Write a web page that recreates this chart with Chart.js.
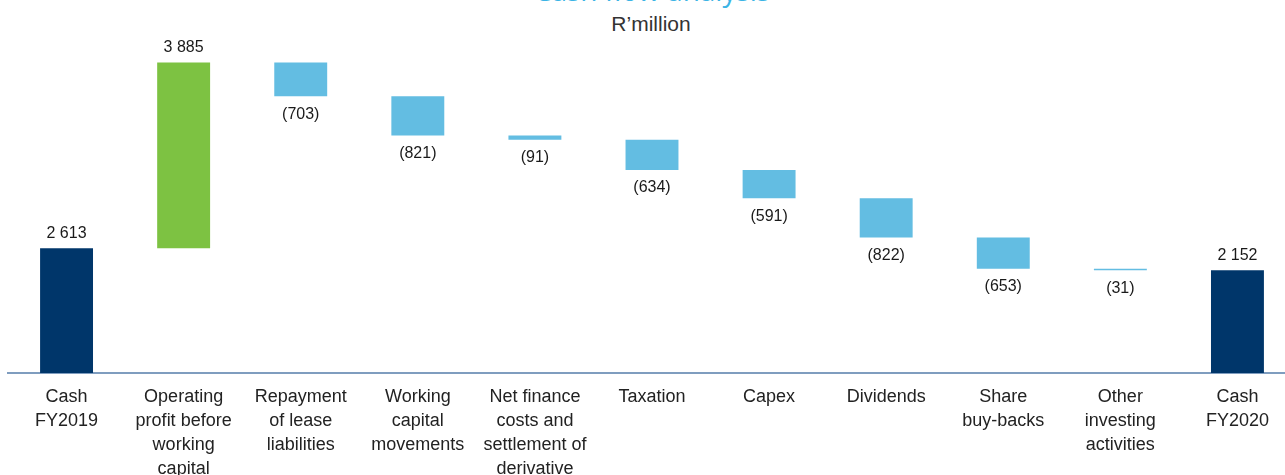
<!DOCTYPE html>
<html lang="en">
<head>
    <meta charset="UTF-8">
    <title>Cash flow analysis</title>
    <script src="https://cdn.jsdelivr.net/npm/chart.js"></script>
    <style>
        html, body {
            margin: 0;
            padding: 0;
            background: #ffffff;
            overflow: hidden;
            width: 1285px;
            height: 475px;
        }
        .title {
            position: absolute;
            left: 0;
            width: 1304px;
            text-align: center;
            top: -24px;
            font-family: "Open Sans", sans-serif;
            font-size: 28px;
            line-height: 28px;
            color: #3cb4e5;
        }
        .subtitle {
            position: absolute;
            left: 0;
            width: 1302px;
            text-align: center;
            top: 12px;
            font-family: "Liberation Sans", Arial, sans-serif;
            font-size: 21px;
            line-height: 24px;
            color: #333333;
        }
        .chart-box {
            position: absolute;
            left: 0;
            top: 0;
            width: 1300px;
            height: 475px;
        }
    </style>
</head>
<body>
    <div class="title">Cash flow analysis</div>
    <div class="subtitle">R’million</div>
    <div class="chart-box">
        <canvas id="cashChart"></canvas>
    </div>

    <script>
        // data (R'million)
        const categories = [
            ['Cash', 'FY2019'],
            ['Operating', 'profit before', 'working', 'capital'],
            ['Repayment', 'of lease', 'liabilities'],
            ['Working', 'capital', 'movements'],
            ['Net finance', 'costs and', 'settlement of', 'derivative'],
            ['Taxation'],
            ['Capex'],
            ['Dividends'],
            ['Share', 'buy-backs'],
            ['Other', 'investing', 'activities'],
            ['Cash', 'FY2020']
        ];
        const values = [2613, 3885, -703, -821, -91, -634, -591, -822, -653, -31, 2152];
        const isTotal = [true, false, false, false, false, false, false, false, false, false, true];

        const navy = '#00366a';
        const green = '#7dc242';
        const lightBlue = '#63bde2';

        // floating ranges for the waterfall
        let running = 0;
        const ranges = values.map((v, i) => {
            if (isTotal[i]) {
                running = v;
                return [0, v];
            }
            const start = running;
            running = running + v;
            return [Math.min(start, running), Math.max(start, running)];
        });
        const colors = values.map((v, i) => isTotal[i] ? navy : (v >= 0 ? green : lightBlue));

        function fmt(v) {
            const s = Math.abs(v).toString().replace(/\B(?=(\d{3})+(?!\d))/g, ' ');
            return v < 0 ? '(' + s + ')' : s;
        }

        const valueLabels = {
            id: 'valueLabels',
            afterDatasetsDraw(chart) {
                const ctx = chart.ctx;
                const meta = chart.getDatasetMeta(0);
                ctx.save();
                ctx.font = '16px "Liberation Sans", Arial, sans-serif';
                ctx.fillStyle = '#1a1a1a';
                ctx.textAlign = 'center';
                ctx.textBaseline = 'middle';
                meta.data.forEach((bar, i) => {
                    const v = values[i];
                    const top = Math.min(bar.y, bar.base);
                    const bottom = Math.max(bar.y, bar.base);
                    if (v >= 0) {
                        ctx.fillText(fmt(v), bar.x, top - 15);
                    } else {
                        ctx.fillText(fmt(v), bar.x, bottom + 18);
                    }
                });
                ctx.restore();
            }
        };

        new Chart(document.getElementById('cashChart').getContext('2d'), {
            type: 'bar',
            data: {
                labels: categories,
                datasets: [{
                    data: ranges,
                    backgroundColor: colors,
                    borderWidth: 0,
                    barPercentage: 0.452,
                    categoryPercentage: 1
                }]
            },
            options: {
                responsive: true,
                maintainAspectRatio: false,
                animation: false,
                layout: { padding: { left: 8, right: 4, top: 41, bottom: 0 } },
                plugins: {
                    legend: { display: false },
                    tooltip: { enabled: false }
                },
                scales: {
                    x: {
                        grid: { display: false, drawTicks: false },
                        border: { display: true, color: '#7f9dbf', width: 2 },
                        ticks: {
                            padding: 12,
                            color: '#222222',
                            maxRotation: 0,
                            autoSkip: false,
                            font: { family: '"Liberation Sans", Arial, sans-serif', size: 18, lineHeight: 1.33 }
                        },
                        afterFit: (s) => { s.height = 102; }
                    },
                    y: {
                        display: false,
                        min: 0,
                        max: 6950
                    }
                }
            },
            plugins: [valueLabels]
        });
    </script>
</body>
</html>
